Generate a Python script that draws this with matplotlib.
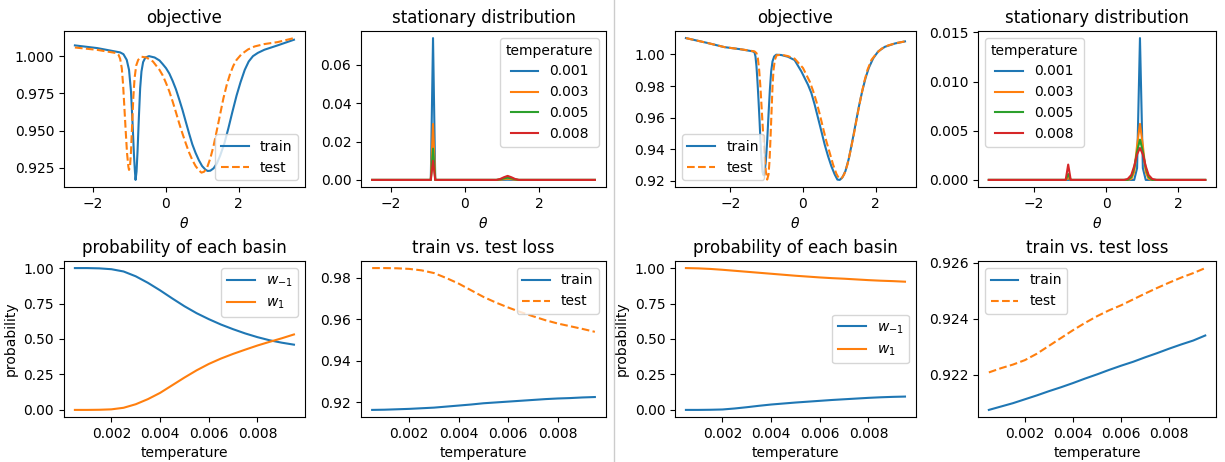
import numpy as np
import matplotlib
matplotlib.use("Agg")
import matplotlib.pyplot as plt
from matplotlib.lines import Line2D

# ---- left half: objective ----
L_train_theta = [-2.489, -1.878, -1.249, -1.159, -1.069, -1.006, -0.952, -0.907, -0.871, -0.844, -0.827,
                 -0.800, -0.773, -0.737, -0.701, -0.665, -0.620, -0.557, -0.458, -0.305, -0.171, -0.081,
                 0.009, 0.099, 0.189, 0.279, 0.368, 0.458, 0.548, 0.638, 0.728, 0.818, 0.908, 0.997,
                 1.087, 1.150, 1.222, 1.312, 1.402, 1.491, 1.608, 1.716, 1.824, 1.941, 2.049, 2.165,
                 2.273, 2.390, 2.525, 2.704, 3.064, 3.513]
L_train_obj = [1.0072, 1.0054, 1.0025, 1.0013, 0.9975, 0.9908, 0.9763, 0.9540, 0.9338, 0.9226, 0.9170,
               0.9226, 0.9360, 0.9584, 0.9785, 0.9897, 0.9960, 0.9991, 1.0000, 0.9991, 0.9971, 0.9946,
               0.9919, 0.9883, 0.9834, 0.9778, 0.9711, 0.9640, 0.9561, 0.9483, 0.9409, 0.9351, 0.9302, 0.9263,
               0.9239, 0.9230, 0.9232, 0.9248, 0.9281, 0.9333, 0.9416, 0.9516, 0.9624, 0.9736, 0.9825, 0.9908,
               0.9964, 1.0000, 1.0022, 1.0043, 1.0072, 1.0110]
L_test_theta = [-2.489, -1.878, -1.339, -1.294, -1.249, -1.204, -1.168, -1.132, -1.096, -1.060, -1.024,
                -1.006, -0.979, -0.952, -0.925, -0.889, -0.854, -0.809, -0.755, -0.665, -0.530, -0.350,
                -0.171, -0.081, 0.009, 0.099, 0.189, 0.279, 0.368, 0.458, 0.548, 0.638, 0.728, 0.818,
                0.908, 0.979, 1.051, 1.132, 1.222, 1.312, 1.402, 1.491, 1.581, 1.671, 1.761, 1.851,
                1.941, 2.075, 2.255, 2.435, 2.704, 3.064, 3.513]
L_test_obj = [1.0058, 1.0042, 1.0020, 1.0009, 0.9982, 0.9919, 0.9807, 0.9651, 0.9494, 0.9348, 0.9259,
              0.9237, 0.9259, 0.9360, 0.9516, 0.9718, 0.9852, 0.9937, 0.9975, 0.9996, 0.9991, 0.9964,
              0.9908, 0.9870, 0.9819, 0.9763, 0.9696, 0.9624, 0.9550, 0.9481, 0.9416, 0.9355, 0.9304, 0.9263,
              0.9234, 0.9219, 0.9225, 0.9252, 0.9315, 0.9400, 0.9505, 0.9611, 0.9718, 0.9807, 0.9879, 0.9935,
              0.9975, 1.0013, 1.0045, 1.0065, 1.0081, 1.0094, 1.0121]

# ---- left half: stationary distribution ----
temperatures = ["0.001", "0.003", "0.005", "0.008"]
L_dist_theta = [-2.5, -0.92, -0.86, -0.80, 0.85, 0.95, 1.05, 1.15, 1.25, 1.35, 1.45, 3.5]
L_dist = [
    [0, 0, 0.0740, 0, 0, 0, 0.00005, 0.0001, 0.00005, 0, 0, 0],
    [0, 0, 0.0292, 0, 0, 0.0001, 0.0004, 0.0006, 0.0004, 0.0001, 0, 0],
    [0, 0, 0.0163, 0, 0, 0.0003, 0.0008, 0.0012, 0.0008, 0.0003, 0, 0],
    [0, 0, 0.0100, 0, 0, 0.0005, 0.0014, 0.0021, 0.0014, 0.0005, 0, 0],
]

# ---- temperature sweeps ----
temp = [0.0005, 0.001, 0.0015, 0.002, 0.0025, 0.003, 0.0035, 0.004, 0.0045, 0.005,
        0.0055, 0.006, 0.0065, 0.007, 0.0075, 0.008, 0.0085, 0.009, 0.0095]
L_w_m1 = [1.0, 1.0, 0.998, 0.992, 0.976, 0.942, 0.896, 0.843, 0.786, 0.731,
          0.682, 0.64, 0.602, 0.569, 0.539, 0.513, 0.491, 0.474, 0.46]
L_w_1 = [0.0, 0.0, 0.001, 0.004, 0.015, 0.04, 0.076, 0.12, 0.174, 0.228,
         0.279, 0.324, 0.362, 0.395, 0.425, 0.454, 0.48, 0.505, 0.532]
L_train_loss = [0.9163, 0.9164, 0.9166, 0.9168, 0.9171, 0.9174, 0.9179, 0.9184, 0.9189, 0.9195,
                0.9199, 0.9203, 0.9207, 0.9211, 0.9215, 0.9218, 0.9220, 0.9223, 0.9225]
L_test_loss = [0.9846, 0.9846, 0.9845, 0.9842, 0.9835, 0.9822, 0.9798, 0.9771, 0.9739, 0.9707,
               0.9680, 0.9656, 0.9634, 0.9614, 0.9595, 0.9579, 0.9566, 0.9553, 0.9539]

# ---- right half: objective ----
R_train_theta = [-3.218, -2.621, -2.161, -1.701, -1.379, -1.333, -1.306, -1.278, -1.251, -1.223, -1.195,
                 -1.168, -1.140, -1.113, -1.085, -1.057, -1.021, -0.984, -0.947, -0.910, -0.874, -0.837,
                 -0.791, -0.736, -0.598, -0.414, -0.230, -0.046, 0.138, 0.230, 0.322, 0.414, 0.506,
                 0.598, 0.690, 0.782, 0.874, 0.947, 1.011, 1.085, 1.168, 1.260, 1.352, 1.444, 1.536,
                 1.628, 1.720, 1.811, 1.931, 2.069, 2.253, 2.529, 2.805]
R_train_obj = [1.0103, 1.0072, 1.0046, 1.0032, 1.0019, 1.0013, 0.9987, 0.9924, 0.9829, 0.9714, 0.9587,
               0.9450, 0.9335, 0.9257, 0.9236, 0.9251, 0.9324, 0.9451, 0.9619, 0.9777, 0.9893, 0.9956,
               0.9987, 0.9998, 0.9996, 0.9985, 0.9964, 0.9893, 0.9808, 0.9756, 0.9682, 0.9598, 0.9514,
               0.9429, 0.9356, 0.9292, 0.9240, 0.9208, 0.9206, 0.9222, 0.9262, 0.9340, 0.9445, 0.9556, 0.9668,
               0.9766, 0.9850, 0.9915, 0.9975, 1.0019, 1.0048, 1.0069, 1.0082]
R_test_theta = [-3.218, -2.621, -2.161, -1.701, -1.333, -1.278, -1.241, -1.205, -1.168, -1.131, -1.094,
                -1.057, -1.021, -0.984, -0.947, -0.920, -0.892, -0.864, -0.837, -0.809, -0.772, -0.726,
                -0.598, -0.414, -0.230, 0.000, 0.184, 0.276, 0.368, 0.460, 0.552, 0.644, 0.736, 0.828,
                0.920, 0.993, 1.057, 1.131, 1.223, 1.315, 1.407, 1.499, 1.591, 1.683, 1.775, 1.885,
                2.023, 2.161, 2.345, 2.575, 2.805]
R_test_obj = [1.0103, 1.0072, 1.0046, 1.0032, 1.0019, 1.0008, 0.9977, 0.9903, 0.9787, 0.9640, 0.9493,
              0.9356, 0.9261, 0.9208, 0.9240, 0.9324, 0.9472, 0.9640, 0.9798, 0.9903, 0.9966, 0.9994,
              0.9998, 0.9989, 0.9973, 0.9914, 0.9829, 0.9771, 0.9703, 0.9623, 0.9535, 0.9450, 0.9377, 0.9303,
              0.9244, 0.9215, 0.9215, 0.9240, 0.9303, 0.9398, 0.9503, 0.9619, 0.9728, 0.9825, 0.9903, 0.9966,
              1.0006, 1.0036, 1.0057, 1.0072, 1.0082]

# ---- right half: stationary distribution ----
R_dist_theta = [-3.25, -1.12, -1.05, -0.98, 0.5, 0.6, 0.7, 0.78, 0.86, 0.94, 1.02, 1.10, 1.18, 1.28, 1.4, 2.75]
R_dist = [
    [0, 0, 0.0, 0, 0, 0, 0, 0, 0.0012, 0.01442, 0.0012, 0, 0, 0, 0, 0],
    [0, 0, 0.0002, 0, 0, 0, 0.0001, 0.0008, 0.0035, 0.0057, 0.0035, 0.0008, 0.0001, 0, 0, 0],
    [0, 0, 0.0006, 0, 0, 0, 0.0003, 0.0012, 0.0029, 0.0041, 0.0029, 0.0012, 0.0003, 0, 0, 0],
    [0, 0, 0.00156, 0, 0, 0.0001, 0.0005, 0.0014, 0.0026, 0.00325, 0.0026, 0.0014, 0.0005, 0.0001, 0, 0],
]

R_w_m1 = [0.0, 0.0, 0.001, 0.003, 0.01, 0.019, 0.029, 0.038, 0.045, 0.052,
          0.058, 0.064, 0.07, 0.075, 0.08, 0.085, 0.089, 0.092, 0.094]
R_w_1 = [1.0, 0.998, 0.994, 0.988, 0.981, 0.974, 0.967, 0.96, 0.953, 0.946,
         0.94, 0.934, 0.929, 0.925, 0.92, 0.915, 0.911, 0.908, 0.904]
R_train_loss = [0.92074, 0.92086, 0.92098, 0.92112, 0.92126, 0.92141, 0.92155, 0.92170, 0.92186, 0.92201,
                0.92217, 0.92232, 0.92246, 0.92262, 0.92277, 0.92293, 0.92308, 0.92322, 0.92340]
R_test_loss = [0.92208, 0.92223, 0.92236, 0.92252, 0.92275, 0.92303, 0.92331, 0.92359, 0.92385, 0.92409,
               0.92430, 0.92448, 0.92469, 0.92490, 0.92510, 0.92529, 0.92547, 0.92563, 0.92581]

fig = plt.figure(figsize=(12.25, 4.62), dpi=100)

h = 0.3377
cols = [(0.0522, 0.1967), (0.2947, 0.2000), (0.5510, 0.1967), (0.7984, 0.1943)]
top_y, bot_y = 0.5952, 0.0974
axs_top = [fig.add_axes([l, top_y, w, h]) for l, w in cols]
axs_bot = [fig.add_axes([l, bot_y, w, h]) for l, w in cols]

halves = [
    (L_train_theta, L_train_obj, L_test_theta, L_test_obj, L_dist_theta, L_dist,
     L_w_m1, L_w_1, L_train_loss, L_test_loss, "lower right", "upper right", "upper right", "upper right"),
    (R_train_theta, R_train_obj, R_test_theta, R_test_obj, R_dist_theta, R_dist,
     R_w_m1, R_w_1, R_train_loss, R_test_loss, "lower left", "upper left", "center right", "upper left"),
]

for k, (tr_t, tr_v, te_t, te_v, d_t, d, wm1, w1, trl, tel,
        obj_loc, dist_loc, prob_loc, loss_loc) in enumerate(halves):
    # objective over theta
    ax = axs_top[2 * k]
    ax.plot(tr_t, tr_v, label="train")
    ax.plot(te_t, te_v, "--", label="test")
    ax.set_title("objective")
    ax.set_xlabel(r"$\theta$")
    ax.legend(loc=obj_loc)

    # stationary distribution per temperature
    ax = axs_top[2 * k + 1]
    for temp_label, dens in zip(temperatures, d):
        ax.plot(d_t, dens, label=temp_label)
    ax.set_title("stationary distribution")
    ax.set_xlabel(r"$\theta$")
    ax.legend(title="temperature", loc=dist_loc)

    # basin probabilities
    ax = axs_bot[2 * k]
    ax.plot(temp, wm1, label=r"$w_{-1}$")
    ax.plot(temp, w1, label=r"$w_1$")
    ax.set_title("probability of each basin")
    ax.set_xlabel("temperature")
    ax.set_ylabel("probability")
    ax.legend(loc=prob_loc)

    # expected losses
    ax = axs_bot[2 * k + 1]
    ax.plot(temp, trl, label="train")
    ax.plot(temp, tel, "--", label="test")
    ax.set_title("train vs. test loss")
    ax.set_xlabel("temperature")
    ax.legend(loc=loss_loc)

for ax in axs_bot:
    ax.set_xticks([0.002, 0.004, 0.006, 0.008])

# divider between the two halves
fig.add_artist(Line2D([0.5012, 0.5012], [0, 1], color="#cccccc", lw=1))

fig.savefig("out.png", dpi=100)
